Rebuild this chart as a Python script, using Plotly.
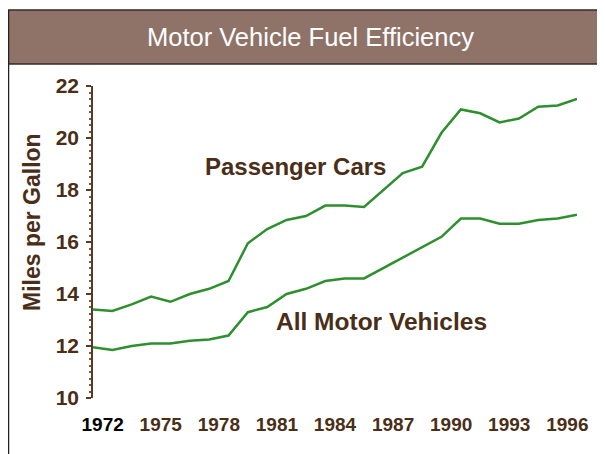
import plotly.graph_objects as go

# Fuel efficiency, miles per gallon
years = list(range(1972, 1998))
passenger_cars = [13.4, 13.35, 13.6, 13.9, 13.7, 14.0, 14.2, 14.5, 15.95, 16.5,
                  16.85, 17.0, 17.4, 17.4, 17.35, 18.0, 18.65, 18.9, 20.2, 21.1,
                  20.95, 20.6, 20.75, 21.2, 21.25, 21.5]
all_vehicles = [11.95, 11.85, 12.0, 12.1, 12.1, 12.2, 12.25, 12.4, 13.3, 13.5,
                14.0, 14.2, 14.5, 14.6, 14.6, 15.0, 15.4, 15.8, 16.2, 16.9,
                16.9, 16.7, 16.7, 16.85, 16.9, 17.05]

x_tick_years = [1972, 1975, 1978, 1981, 1984, 1987, 1990, 1993, 1996]
y_ticks = [10, 12, 14, 16, 18, 20, 22]

# the page body has an 8px margin, so the figure is shrunk and shifted by it
OFF = 8
W, H = 605 - OFF, 454 - OFF
L, R, T, B = 93 - OFF, 28, 86 - OFF, 56
BROWN = '#4a2e17'
GREEN = '#2e8f2e'
FONT = 'Liberation Sans, Arial, sans-serif'


def px_x(p):
    # p in reference-image pixels
    return (p - OFF - L) / (W - L - R)


def px_y(p):
    return (H - B - (p - OFF)) / (H - T - B)


fig = go.Figure()
for vals in (passenger_cars, all_vehicles):
    fig.add_trace(go.Scatter(
        x=years, y=vals, mode='lines',
        line=dict(color=GREEN, width=2.5),
        showlegend=False, hoverinfo='skip',
    ))

ticktext = [f'<span style="color:#000">{y}</span>' if y == 1972 else str(y)
            for y in x_tick_years]


def label(text, x, y, size, color=BROWN, bold=True, angle=0):
    return dict(text=text, xref='paper', yref='paper', x=px_x(x), y=px_y(y),
                xanchor='center', yanchor='middle', showarrow=False, textangle=angle,
                font=dict(size=size, color=color, family=FONT,
                          weight='bold' if bold else 'normal'))


fig.update_layout(
    width=W, height=H,
    margin=dict(l=L, r=R, t=T, b=B),
    paper_bgcolor='white', plot_bgcolor='white',
    font=dict(family=FONT, color=BROWN),
    xaxis=dict(
        range=[1972, 1997],
        tickvals=[y + 0.5 for y in x_tick_years], ticktext=ticktext,
        showgrid=False, zeroline=False, showline=False, ticks='',
        ticklabelstandoff=13,
        tickfont=dict(size=19, family=FONT, color=BROWN, weight='bold'),
    ),
    yaxis=dict(
        range=[10, 22], tickvals=y_ticks,
        showgrid=False, zeroline=False,
        showline=True, linecolor='#5a3a22', linewidth=1.5,
        ticks='outside', ticklen=5, tickcolor='#5a3a22', tickwidth=1.5,
        minor=dict(dtick=0.25, ticks='outside', ticklen=2, tickcolor='#7a5a42'),
        ticklabelstandoff=3,
        tickfont=dict(size=21, family=FONT, color=BROWN, weight='bold'),
    ),
    shapes=[
        # title bar
        dict(type='rect', xref='paper', yref='paper',
             x0=px_x(8), x1=px_x(610), y0=px_y(64), y1=px_y(10),
             fillcolor='#8f7368', line=dict(color='#3a2a22', width=1.5), layer='below'),
        # left frame line
        dict(type='line', xref='paper', yref='paper',
             x0=px_x(8.5), x1=px_x(8.5), y0=px_y(10), y1=px_y(460),
             line=dict(color='#222', width=1.5)),
    ],
    annotations=[
        label('Motor Vehicle Fuel Efficiency', 310, 37, 25.5, color='white', bold=False),
        label('Miles per Gallon', 32, 222, 23, angle=-90),
        label('Passenger Cars', 295, 166, 24),
        label('All Motor Vehicles', 381, 321, 24.5),
    ],
)

fig.write_html('out.html')
